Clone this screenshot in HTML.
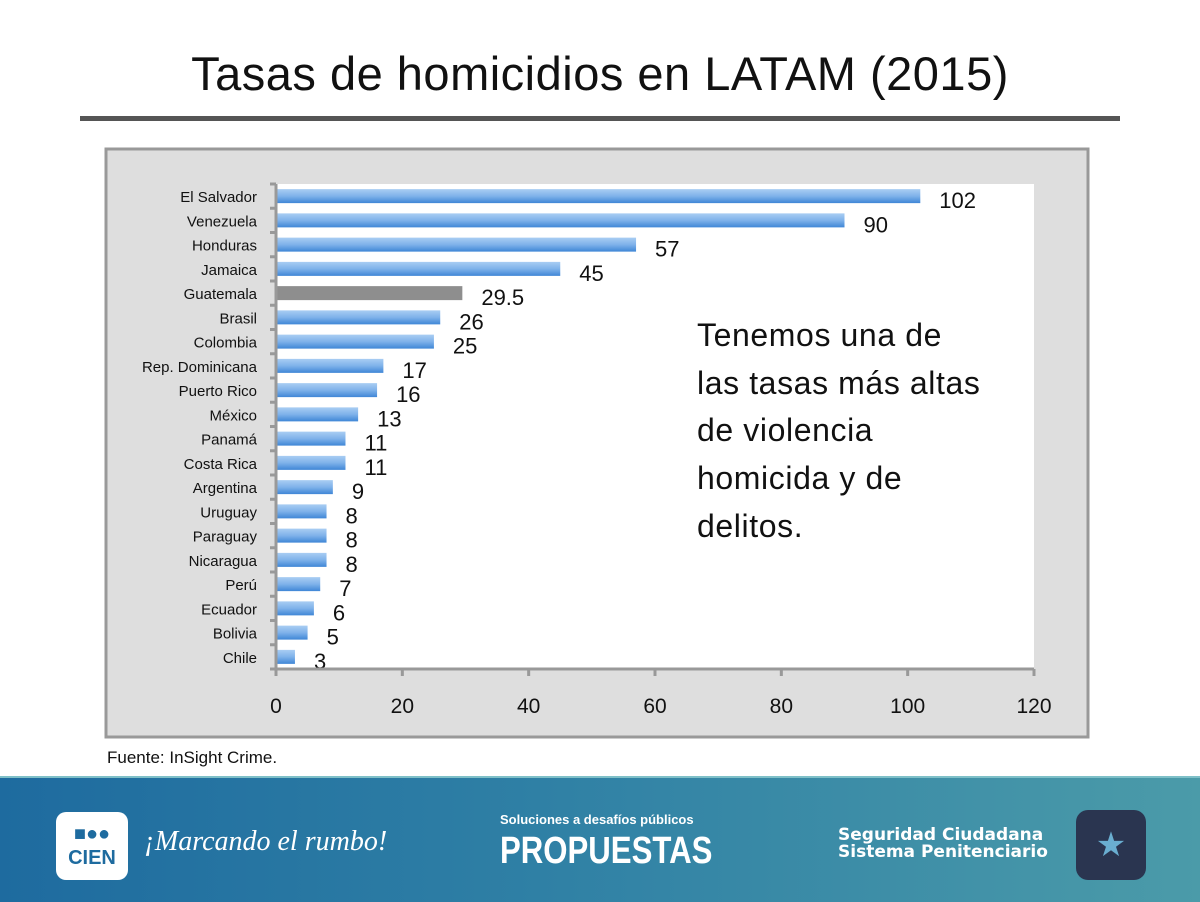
<!DOCTYPE html>
<html><head><meta charset="utf-8"><style>
body{margin:0;width:1200px;height:900px;overflow:hidden;background:#fff;font-family:"Liberation Sans",sans-serif;position:relative}
.abs{position:absolute}
</style></head><body>
<div class="abs" style="left:0;width:1200px;top:46px;text-align:center;font-size:47px;color:#111;letter-spacing:0.5px">Tasas de homicidios en LATAM (2015)</div>
<div class="abs" style="left:80px;top:116px;width:1040px;height:5px;background:#555"></div>
<svg class="abs" style="left:0;top:0" width="1200" height="770">
<rect x="106" y="149" width="982" height="588" fill="#dedede" stroke="#999" stroke-width="3"/>
<rect x="276" y="184" width="758" height="485" fill="#fff"/>
<defs><linearGradient id="bg" x1="0" y1="0" x2="0" y2="1"><stop offset="0" stop-color="#a9cdf3"/><stop offset="0.5" stop-color="#7fb2ea"/><stop offset="1" stop-color="#3f86d6"/></linearGradient></defs>
<g id="bars"></g>
<text x="107" y="763" font-size="17" fill="#111" font-family="Liberation Sans">Fuente: InSight Crime.</text>
<g font-size="32" fill="#111" font-family="Liberation Sans" letter-spacing="0.6">
<text x="697" y="346">Tenemos una de</text><text x="697" y="394">las tasas más altas</text><text x="697" y="441">de violencia</text><text x="697" y="489">homicida y de</text><text x="697" y="537">delitos.</text></g>
</svg>
<div class="abs" style="left:0;top:776px;width:1200px;height:124px;background:linear-gradient(90deg,#1e6b9f,#2f80a5 45%,#4b9ba9);border-top:2px solid #7fc0c8">
<div class="abs" style="left:56px;top:34px;width:72px;height:68px;background:#fff;border-radius:10px;color:#1e6b9f;font-weight:bold;font-size:20px;text-align:center;line-height:24px;padding-top:10px;box-sizing:border-box">■●●<br>CIEN</div>
<div class="abs" style="left:144px;top:48px;color:#fff;font-style:italic;font-size:28px;font-family:'Liberation Serif',serif">¡Marcando el rumbo!</div>
<div class="abs" style="left:500px;top:34px;color:#fff;font-size:13px;font-weight:bold">Soluciones a desafíos públicos</div>
<div class="abs" style="left:500px;top:52px;color:#fff;font-size:38px;font-weight:bold;transform:scaleX(0.82);transform-origin:left">PROPUESTAS</div>
<div class="abs" style="left:838px;top:49px;color:#fff;font-size:17px;font-weight:bold;line-height:17px;font-family:'DejaVu Sans',sans-serif">Seguridad Ciudadana<br>Sistema Penitenciario</div>
<div class="abs" style="left:1076px;top:32px;width:70px;height:70px;background:#2a3550;border-radius:12px;color:#6aaed0;font-size:34px;text-align:center;line-height:70px">★</div>
</div>
<script>
const categories=["El Salvador","Venezuela","Honduras","Jamaica","Guatemala","Brasil","Colombia","Rep. Dominicana","Puerto Rico","México","Panamá","Costa Rica","Argentina","Uruguay","Paraguay","Nicaragua","Perú","Ecuador","Bolivia","Chile"];
const values=[102,90,57,45,29.5,26,25,17,16,13,11,11,9,8,8,8,7,6,5,3];
const valueLabels=["102","90","57","45","29.5","26","25","17","16","13","11","11","9","8","8","8","7","6","5","3"];
const ticks=[0,20,40,60,80,100,120];
const X0=276,X1=1034,Y0=184,Y1=669,MAX=120;
const xs=v=>X0+v/MAX*(X1-X0);
const step=(Y1-Y0)/categories.length;
const yc=i=>Y0+step*(i+0.5);
const g=document.getElementById('bars');
const NS="http://www.w3.org/2000/svg";
function mk(t,a){const e=document.createElementNS(NS,t);for(const k in a)e.setAttribute(k,a[k]);g.appendChild(e);return e;}
categories.forEach((c,i)=>{
 const r=mk('rect',{x:X0,y:yc(i)-7,width:xs(values[i])-X0,height:14,fill:c==="Guatemala"?"#8e8e8e":"url(#bg)"});
 
 
 const l=mk('text',{x:257,y:yc(i)+6,'text-anchor':'end','font-size':15,fill:'#111'});l.textContent=c;
 
 
 const v=mk('text',{x:xs(values[i])+19,y:yc(i)+12,'font-size':22,fill:'#111'});v.textContent=valueLabels[i];
 
 
});
for(let i=0;i<=categories.length;i++){const t=mk('line',{x1:270,x2:276,y1:Y0+step*i,y2:Y0+step*i,stroke:'#999','stroke-width':3});
 
 }
const ya=mk('line',{x1:X0,x2:X0,y1:Y0,y2:Y1,stroke:'#999','stroke-width':3});


const xa=mk('line',{x1:X0,x2:X1,y1:Y1,y2:Y1,stroke:'#999','stroke-width':3});


ticks.forEach(t=>{
 const tk=mk('line',{x1:xs(t),x2:xs(t),y1:Y1,y2:Y1+7,stroke:'#999','stroke-width':3});
 
 
 const tl=mk('text',{x:xs(t),y:713,'text-anchor':'middle','font-size':21,fill:'#111'});tl.textContent=t;
 
 
});
</script>
</body></html>
